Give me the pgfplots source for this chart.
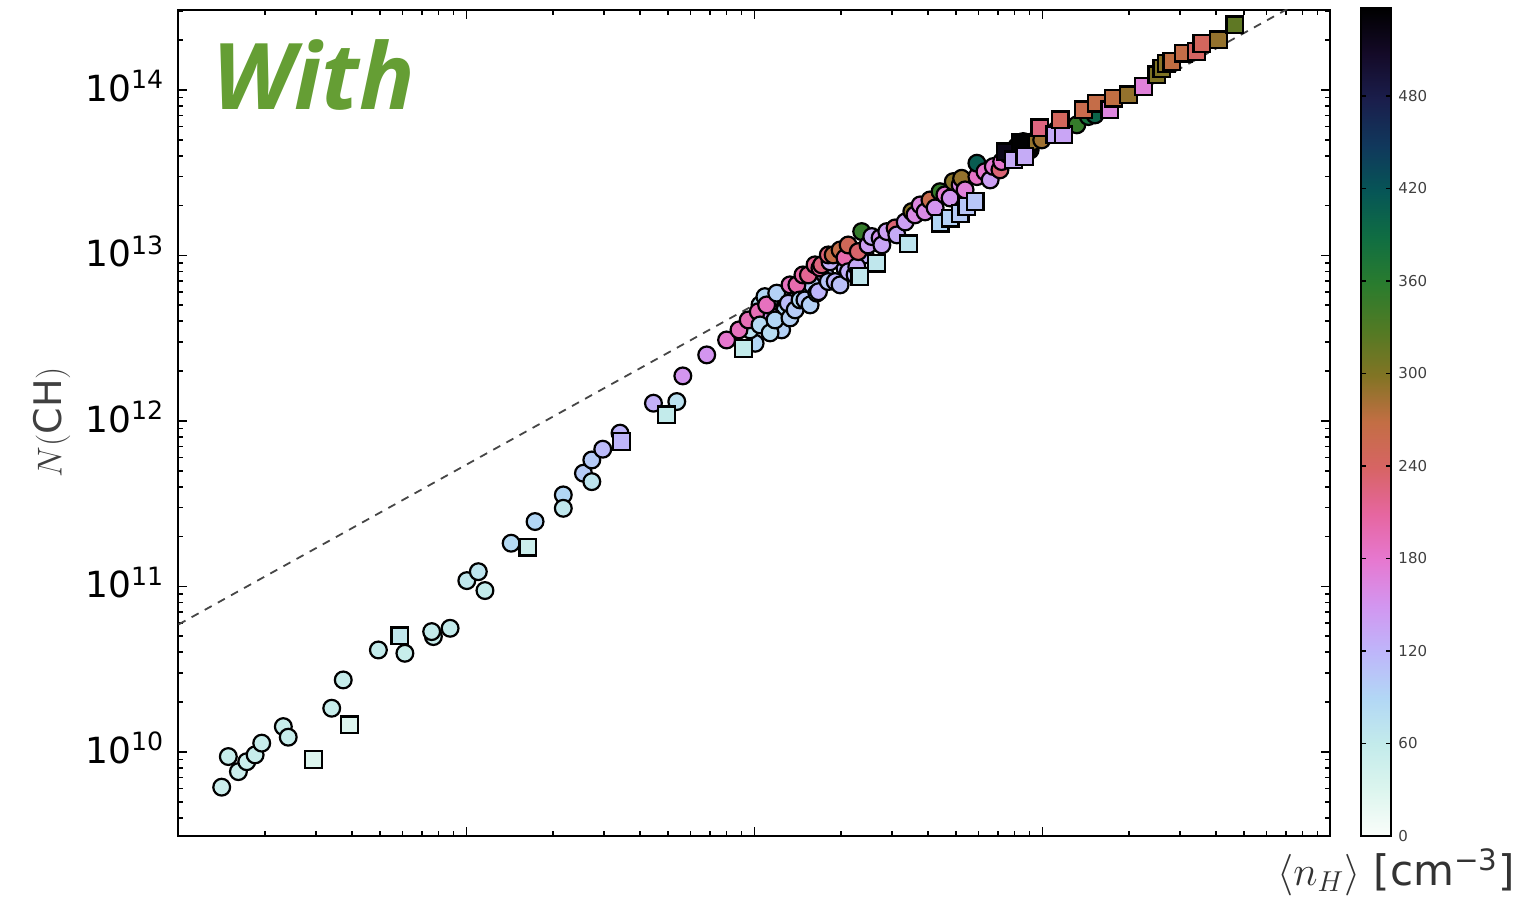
\documentclass[border=0pt]{standalone}
\usepackage{fontspec}
\setmainfont{DejaVu Sans}
\newfontfamily\withfont{Open Sans}
\usepackage{pgfplots}
\usepackage{pgfplotstable}
\pgfplotsset{compat=1.18}
\definecolor{withgreen}{RGB}{101,158,52}
\definecolor{fitgray}{RGB}{70,70,70}
\pgfplotsset{colormap={chr}{
 rgb255=(250,253,250) rgb255=(220,245,238) rgb255=(195,235,235) rgb255=(178,215,245)
 rgb255=(190,182,250) rgb255=(210,150,240) rgb255=(230,120,208) rgb255=(230,102,160)
 rgb255=(215,100,100) rgb255=(195,110,68) rgb255=(130,116,36) rgb255=(82,122,36)
 rgb255=(42,124,46) rgb255=(16,110,66) rgb255=(6,86,86) rgb255=(16,56,92)
 rgb255=(26,30,76) rgb255=(20,10,40) rgb255=(0,0,0)}}
\newcommand{\tl}[1]{10\textsuperscript{#1}}

\pgfplotstableread{
lx ly c
0.150 9.787 50
0.208 9.881 50
0.173 9.972 55
0.237 9.941 50
0.266 9.982 55
0.289 10.053 55
0.364 10.153 55
0.381 10.089 55
0.532 10.264 55
0.572 10.435 55
0.694 10.616 60
0.786 10.596 55
0.885 10.697 55
0.879 10.727 60
0.943 10.747 60
1.001 11.035 65
1.041 11.089 70
1.064 10.975 60
1.155 11.261 85
1.238 11.392 90
1.336 11.553 90
1.336 11.472 65
1.406 11.684 100
1.435 11.633 70
1.435 11.764 100
1.473 11.829 115
1.533 11.926 120
1.649 12.107 125
1.730 12.117 75
1.751 12.272 150
1.834 12.399 150
1.903 12.489 180
2.002 12.469 90
1.984 12.550 75
2.019 12.701 80
2.054 12.731 85
2.106 12.671 90
2.158 12.792 95
2.200 12.822 100
2.245 12.882 110
2.314 12.924 120
2.384 13.003 125
1.946 12.550 190
1.978 12.610 195
2.013 12.660 195
2.060 12.630 150
2.094 12.550 95
2.019 12.580 85
2.054 12.532 80
2.036 12.751 90
2.042 12.701 190
2.071 12.610 90
2.077 12.772 95
2.117 12.711 115
2.123 12.622 95
2.141 12.671 100
2.123 12.822 190
2.147 12.822 200
2.158 12.731 90
2.175 12.731 105
2.168 12.882 205
2.187 12.882 215
2.193 12.701 95
2.216 12.772 100
2.222 12.781 120
2.210 12.943 215
2.227 12.924 210
2.233 12.943 225
2.256 12.842 105
2.262 12.961 125
2.256 13.003 230
2.273 13.003 265
2.280 12.842 120
2.297 13.033 265
2.297 12.822 110
2.314 12.985 200
2.325 13.063 250
2.326 12.902 125
2.349 12.882 115
2.355 12.932 130
2.360 13.023 235
2.372 13.144 350
2.394 13.063 140
2.407 13.114 130
2.436 13.106 150
2.442 13.063 135
2.459 13.144 140
2.488 13.166 230
2.494 13.124 130
2.523 13.202 140
2.546 13.265 295
2.557 13.245 160
2.575 13.305 165
2.592 13.263 160
2.609 13.335 260
2.627 13.287 150
2.644 13.385 350
2.661 13.366 175
2.679 13.347 150
2.690 13.446 295
2.714 13.426 160
2.719 13.466 290
2.731 13.396 170
2.772 13.476 185
2.772 13.557 410
2.800 13.506 180
2.818 13.456 140
2.829 13.537 175
2.852 13.517 230
2.858 13.567 180
2.881 13.607 260
2.910 13.657 530
2.933 13.688 520
2.957 13.637 535
2.968 13.688 290
2.997 13.698 285
3.049 13.758 345
3.119 13.789 350
3.159 13.839 380
3.182 13.849 400
}\circles

\pgfplotstableread{
lx ly c
0.468 9.956 30
0.593 10.163 30
0.769 10.701 65
1.213 11.237 50
1.539 11.875 120
1.695 12.036 60
1.961 12.439 60
2.366 12.872 65
2.424 12.953 65
2.534 13.069 70
2.644 13.195 90
2.679 13.225 95
2.714 13.255 100
2.737 13.295 105
2.766 13.325 105
2.870 13.625 520
2.899 13.577 130
2.922 13.680 535
2.939 13.597 130
2.991 13.770 225
3.043 13.728 130
3.072 13.728 135
3.061 13.819 245
3.142 13.879 260
3.188 13.920 265
3.234 13.879 165
3.246 13.950 270
3.298 13.970 290
3.350 14.020 170
3.397 14.091 300
3.414 14.131 300
3.431 14.161 295
3.449 14.171 270
3.489 14.222 265
3.535 14.231 240
3.553 14.282 245
3.611 14.302 290
3.668 14.393 320
}\squares

\pgfplotstableread{
lx ly
0 10.770
4 14.634
}\fitline

\begin{document}
\begin{tikzpicture}
\useasboundingbox (-89.25pt,-31pt) rectangle (667.75pt,418pt);
\begin{axis}[
  at={(0,0)}, anchor=south west,
  scale only axis, width=575.75pt, height=413pt,
  xmin=0, xmax=3.998, ymin=9.492, ymax=14.483,
  axis line style={line width=1pt},
  tick style={line width=0.8pt, black},
  major tick length=4.5pt, minor tick length=2.5pt,
  tick align=inside,
  xtick={1,2,3}, xticklabels={,,},
  minor xtick={0.30103,0.47712,0.60206,0.69897,0.77815,0.84510,0.90309,0.95424,
    1.30103,1.47712,1.60206,1.69897,1.77815,1.84510,1.90309,1.95424,
    2.30103,2.47712,2.60206,2.69897,2.77815,2.84510,2.90309,2.95424,
    3.30103,3.47712,3.60206,3.69897,3.77815,3.84510,3.90309,3.95424},
  ytick={10,11,12,13,14},
  yticklabels={\tl{10},\tl{11},\tl{12},\tl{13},\tl{14}},
  yticklabel style={font=\fontsize{18}{20}\selectfont, inner sep=0pt, xshift=-7pt, yshift=2pt},
  minor ytick={9.60206,9.69897,9.77815,9.84510,9.90309,9.95424,
    10.30103,10.47712,10.60206,10.69897,10.77815,10.84510,10.90309,10.95424,
    11.30103,11.47712,11.60206,11.69897,11.77815,11.84510,11.90309,11.95424,
    12.30103,12.47712,12.60206,12.69897,12.77815,12.84510,12.90309,12.95424,
    13.30103,13.47712,13.60206,13.69897,13.77815,13.84510,13.90309,13.95424,
    14.30103,14.47712},
  ylabel={$N(\mathrm{CH})$},
  ylabel style={at={(axis description cs:-0.1099,0.5012)}, anchor=center, rotate=0,
    font=\fontsize{19}{22}\selectfont, text=black!75},
  xlabel={$\langle n_H\rangle$ [cm\textsuperscript{−3}]},
  xlabel style={at={(axis description cs:1.0573,-0.0436)}, anchor=center,
    font=\fontsize{21}{24}\selectfont, text=black!80},
  colormap name=chr,
  point meta min=0, point meta max=537,
  colorbar right,
  colorbar style={
    at={(parent axis.south east)}, anchor=south west, xshift=7pt,
    scale only axis, width=15pt, height=414pt,
    ytick={0,60,...,480},
    /pgf/number format/assume math mode=true,
    yticklabel style={font=\fontsize{7.5}{9}\selectfont, text=black!75, inner sep=0pt, xshift=3.5pt},
    axis line style={line width=1pt},
    major tick length=2.5pt, tick align=inside,
    tick style={line width=0.8pt, black},
  },
]
\addplot[scatter, only marks, mark=*, mark size=4.2pt, point meta=explicit,
  scatter/use mapped color={draw=black, fill=mapped color, line width=1.1pt}]
  table[x=lx, y=ly, meta=c] {\circles};
\addplot[scatter, only marks, mark=square*, mark size=4.2pt, point meta=explicit,
  scatter/use mapped color={draw=black, fill=mapped color, line width=1.1pt}]
  table[x=lx, y=ly, meta=c] {\squares};
\addplot[fitgray, line width=0.9pt, dash pattern=on 4pt off 3.5pt] table[x=lx, y=ly] {\fitline};
\node[anchor=base west, inner sep=0pt, text=withgreen,
  font=\withfont\bfseries\itshape\fontsize{46}{50}\selectfont]
  at (rel axis cs:0.0291,0.879) {With};
\end{axis}
\end{tikzpicture}
\end{document}
